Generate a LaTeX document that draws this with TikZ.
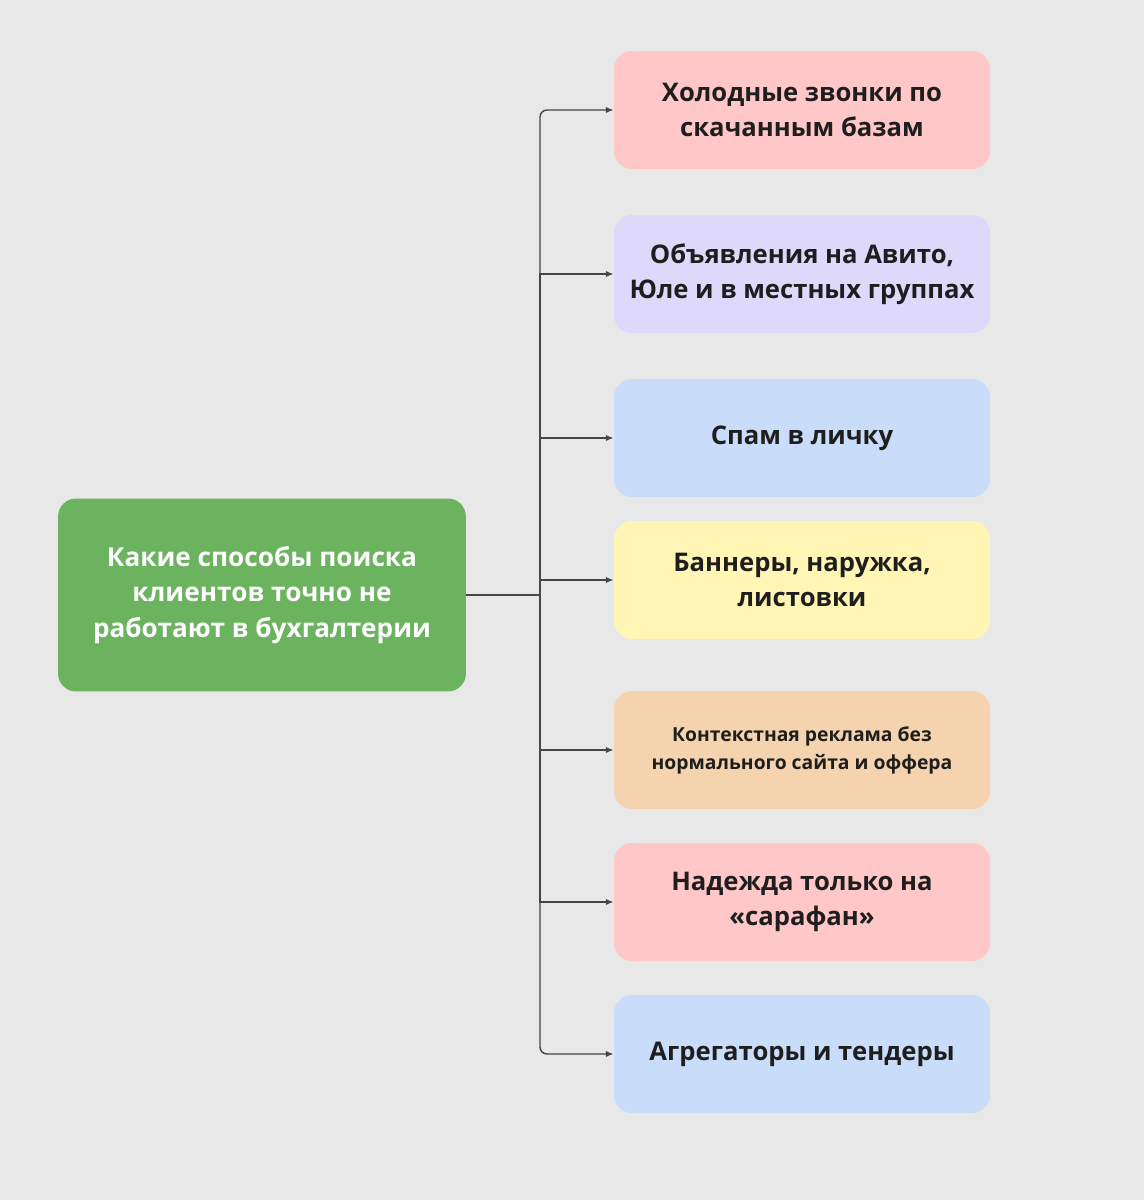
\documentclass[tikz,border=0pt]{standalone}
\usepackage{fontspec}
\setmainfont{Open Sans}
\usepackage{xcolor}
\usepackage{tikz}
\usetikzlibrary{arrows.meta,positioning}

\definecolor{bgcol}{HTML}{E8E8E8}
\definecolor{qgreen}{HTML}{6CB360}
\definecolor{cpink}{HTML}{FFC7C7}
\definecolor{clav}{HTML}{DED8FB}
\definecolor{cblue}{HTML}{C9DCFA}
\definecolor{cyel}{HTML}{FFF5B4}
\definecolor{corange}{HTML}{F5D3AE}
\definecolor{inkcol}{HTML}{1E1E1E}
\definecolor{linecol}{HTML}{454545}

\tikzset{
  way/.style={rounded corners=0.36cm,minimum width=7.52cm,minimum height=2.36cm,
    align=center,text=inkcol,font=\fontsize{14.6pt}{19.9pt}\selectfont\bfseries},
  link/.style={draw=linecol,line width=0.8pt},
  tip/.style={-{Latex[length=4.5pt,width=3.6pt]}}
}

\begin{document}
\begin{tikzpicture}[x=0.02cm,y=-0.02cm]
\fill[bgcol] (0,0) rectangle (1144,1200);
\useasboundingbox (0,0) rectangle (1144,1200);
% question
\node[fill=qgreen,rounded corners=0.36cm,minimum width=8.16cm,minimum height=3.86cm,
  align=center,text=white,font=\fontsize{14.9pt}{20.4pt}\selectfont\bfseries] (q) at (262,595)
  {Какие способы поиска\\клиентов точно не\\работают в бухгалтерии};
% answers
\node[way,fill=cpink] (b1) at (802,110) {Холодные звонки по\\скачанным базам};
\node[way,fill=clav] (b2) at (802,274) {Объявления на Авито,\\Юле и в местных группах};
\node[way,fill=cblue] (b3) at (802,438) {Спам в личку};
\node[way,fill=cyel] (b4) at (802,580) {Баннеры, наружка,\\листовки};
\node[way,fill=corange,font=\fontsize{11pt}{15.9pt}\selectfont\bfseries] (b5) at (802,750)
  {Контекстная реклама без\\нормального сайта и оффера};
\node[way,fill=cpink] (b6) at (802,902) {Надежда только на\\«сарафан»};
\node[way,fill=cblue] (b7) at (802,1054) {Агрегаторы и тендеры};
% connectors
\coordinate (tr) at (540,595);
\draw[link] (q.east) -- (tr);
\draw[link,tip,rounded corners=4] (tr) |- (b1.west);
\draw[link,tip,rounded corners=4] (tr) |- (b7.west);
\foreach \i in {2,...,6}
  \draw[link,tip] (tr) |- (b\i.west);
\end{tikzpicture}
\end{document}
